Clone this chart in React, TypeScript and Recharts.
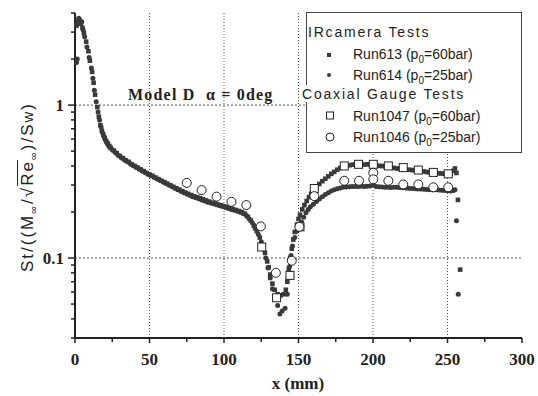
import React from 'react'
import { ScatterChart, Scatter, XAxis, YAxis, ReferenceLine } from 'recharts'

// IR camera, Run613 (p0=60bar) - [x mm, St ratio]
const run613: [number, number][] = [
  [1, 3.3], [2, 3.5], [3, 3.6], [4, 3.4], [5, 3.2], [6, 2.95], [7.5, 2.6], [9, 2.25], [10, 1.95],
  [11.5, 1.65], [12.5, 1.4], [13.5, 1.17], [15, 0.97], [16, 0.84], [17, 0.74], [18, 0.68], [19, 0.64],
  [20, 0.61], [21, 0.58], [22, 0.56], [23, 0.54], [24, 0.525], [26, 0.505], [28, 0.485], [30, 0.465],
  [32, 0.45], [34, 0.435], [36, 0.425], [38, 0.41], [40, 0.4], [42, 0.39], [44, 0.38], [46, 0.37],
  [48, 0.36], [50, 0.352], [52, 0.345], [54, 0.336], [56, 0.328], [58, 0.32], [60, 0.313], [62, 0.306],
  [64, 0.299], [66, 0.292], [68, 0.286], [70, 0.28], [72, 0.274], [74, 0.268], [76, 0.263], [78, 0.258],
  [80, 0.253], [82, 0.25], [84, 0.246], [86, 0.242], [88, 0.238], [90, 0.234], [92, 0.23], [94, 0.227],
  [96, 0.224], [98, 0.221], [100, 0.218], [102, 0.215], [104, 0.212], [106, 0.209], [108, 0.206],
  [110, 0.203], [112, 0.2], [114, 0.195], [116, 0.186], [118, 0.176], [120, 0.163], [122, 0.15],
  [124, 0.136], [126, 0.12], [127.5, 0.108], [129, 0.095], [130, 0.087], [131, 0.078], [132.5, 0.068],
  [134, 0.062], [136, 0.058], [138, 0.057], [140, 0.058], [141.5, 0.062], [142.5, 0.07], [143.5, 0.085],
  [144.5, 0.1], [145.5, 0.115], [146.5, 0.132], [147.5, 0.148], [149, 0.165], [150, 0.18], [151, 0.192],
  [152.5, 0.208], [154, 0.222], [155.5, 0.236], [157, 0.25], [158.5, 0.263], [160, 0.276], [162, 0.29],
  [164, 0.305], [166, 0.318], [168, 0.33], [170, 0.342], [172, 0.355], [174, 0.366], [176, 0.378],
  [178, 0.388], [180, 0.396], [182, 0.4], [184, 0.404], [186, 0.407], [188, 0.409], [190, 0.41],
  [192, 0.41], [194, 0.408], [196, 0.41], [198, 0.408], [200, 0.41], [202, 0.405], [204, 0.4], [206, 0.4],
  [208, 0.397], [210, 0.395], [212, 0.39], [214, 0.388], [216, 0.385], [218, 0.383], [220, 0.38],
  [222, 0.38], [224, 0.378], [226, 0.376], [228, 0.375], [230, 0.373], [232, 0.37], [234, 0.368],
  [236, 0.365], [238, 0.364], [240, 0.362], [242, 0.36], [244, 0.358], [246, 0.357], [248, 0.356],
  [250, 0.355], [252, 0.36], [254, 0.372], [255, 0.385], [256, 0.36], [257, 0.24], [258.5, 0.084],
]

// IR camera, Run614 (p0=25bar)
const run614: [number, number][] = [
  [1, 1.9], [1.5, 2.0], [2.5, 3.7], [3.5, 3.4], [4.5, 3.5], [5.5, 3.1], [6.5, 2.8], [8, 2.4], [9.5, 2.05],
  [11, 1.75], [12, 1.5], [13, 1.25], [14.2, 1.05], [15.5, 0.9], [16.5, 0.8], [17.5, 0.72], [18.5, 0.66],
  [19.5, 0.62], [20.5, 0.59], [21.5, 0.565], [22.5, 0.545], [23.5, 0.53], [25, 0.51], [27, 0.49],
  [29, 0.47], [31, 0.455], [33, 0.44], [35, 0.428], [37, 0.415], [39, 0.403], [41, 0.392], [43, 0.382],
  [45, 0.372], [47, 0.362], [49, 0.353], [51, 0.345], [53, 0.337], [55, 0.33], [57, 0.322], [59, 0.315],
  [61, 0.307], [63, 0.3], [65, 0.293], [67, 0.286], [69, 0.279], [71, 0.273], [73, 0.267], [75, 0.262],
  [77, 0.257], [79, 0.252], [81, 0.248], [83, 0.244], [85, 0.24], [87, 0.236], [89, 0.232], [91, 0.229],
  [93, 0.226], [95, 0.223], [97, 0.22], [99, 0.217], [101, 0.214], [103, 0.211], [105, 0.208],
  [107, 0.205], [109, 0.202], [111, 0.199], [113, 0.195], [115, 0.19], [117, 0.18], [119, 0.17],
  [121, 0.156], [123, 0.143], [125, 0.128], [126.5, 0.114], [128, 0.1], [129.5, 0.086], [131, 0.074],
  [132.5, 0.063], [134, 0.055], [136, 0.049], [137.5, 0.043], [139, 0.045], [141, 0.047], [142.5, 0.058],
  [143, 0.075], [144, 0.088], [145, 0.104], [146, 0.12], [147.5, 0.136], [149, 0.15], [150.5, 0.16],
  [152, 0.172], [153.5, 0.185], [155, 0.198], [156.5, 0.208], [158, 0.216], [160, 0.225], [162, 0.234],
  [164, 0.243], [166, 0.252], [168, 0.26], [170, 0.267], [172, 0.274], [174, 0.28], [176, 0.284],
  [178, 0.287], [180, 0.29], [182, 0.291], [184, 0.292], [186, 0.293], [188, 0.294], [190, 0.294],
  [192, 0.295], [194, 0.294], [196, 0.295], [198, 0.296], [200, 0.3], [202, 0.294], [204, 0.292],
  [206, 0.291], [208, 0.29], [210, 0.29], [212, 0.289], [214, 0.29], [216, 0.29], [218, 0.289],
  [220, 0.288], [222, 0.287], [224, 0.286], [226, 0.285], [228, 0.284], [230, 0.283], [232, 0.283],
  [234, 0.282], [236, 0.281], [238, 0.28], [240, 0.28], [242, 0.279], [244, 0.278], [246, 0.277],
  [248, 0.276], [250, 0.275], [252, 0.274], [254, 0.276], [255, 0.28], [256, 0.175], [257.2, 0.058],
]

// coaxial gauges
const run1047: [number, number][] = [
  [125.3, 0.118], [135.3, 0.055], [144.3, 0.077], [151, 0.16], [160.6, 0.285], [180.7, 0.4],
  [190.3, 0.41], [200.2, 0.41], [210.3, 0.4], [220.3, 0.39], [230.4, 0.376], [240.5, 0.363], [250.5, 0.355],
]
const run1046: [number, number][] = [
  [75, 0.31], [85, 0.278], [95, 0.252], [105, 0.233], [115, 0.222], [124.7, 0.161], [134.8, 0.08],
  [145.5, 0.096], [150.6, 0.16], [160.6, 0.254], [180.7, 0.32], [190.6, 0.32], [200.2, 0.361],
  [200.2, 0.327], [210.3, 0.32], [220.3, 0.303], [230.4, 0.303], [240.5, 0.29], [250.5, 0.29],
]

const xTicks = [0, 25, 50, 75, 100, 125, 150, 175, 200, 225, 250, 275, 300]
const xGrid = [50, 100, 150, 200, 250]
const yTicks = [0.03, 0.04, 0.05, 0.06, 0.07, 0.08, 0.09, 0.1, 0.2, 0.3, 0.4, 0.5, 0.6, 0.7, 0.8, 0.9, 1, 2, 3, 4]
const yLabels = [0.1, 1]

const ink = '#222'
const dot = '#3a3a3a'
const serif = '"Liberation Serif", "Times New Roman", serif'
const sans = '"Liberation Sans", Arial, sans-serif'

const toPts = (arr: [number, number][]) => arr.map(([x, y]) => ({ x, y }))

function XTick({ x, y, payload }: any) {
  const v = payload.value
  const major = v % 50 === 0
  return (
    <g>
      <line x1={x} x2={x} y1={y} y2={y + (major ? 5 : 4)} stroke={ink} strokeWidth={1.5} />
      {major && (
        <text x={x} y={y + 27} textAnchor="middle" fontFamily={serif} fontWeight="bold" fontSize={17} fill={ink}>
          {v}
        </text>
      )}
    </g>
  )
}

function YTick({ x, y, payload }: any) {
  const v = payload.value
  const major = yLabels.includes(v)
  return (
    <g>
      <line x1={x - (major ? 7 : 4)} x2={x} y1={y} y2={y} stroke={ink} strokeWidth={1.5} />
      {major && (
        <text x={x - 11} y={y + 6} textAnchor="end" fontFamily={serif} fontWeight="bold" fontSize={17} fill={ink}>
          {v}
        </text>
      )}
    </g>
  )
}

const irSquare = (p: any) => <rect x={p.cx - 2.3} y={p.cy - 2.3} width={4.6} height={4.6} fill={dot} />
const irCircle = (p: any) => <circle cx={p.cx} cy={p.cy} r={2.5} fill={dot} />
const openSquare = (p: any) => (
  <rect x={p.cx - 4} y={p.cy - 4} width={8} height={8} fill="#fff" stroke={ink} strokeWidth={1} />
)
const openCircle = (p: any) => <circle cx={p.cx} cy={p.cy} r={4.5} fill="#fff" stroke={ink} strokeWidth={1} />

function Legend() {
  const row = (y: number, run: string, p: string) => (
    <text x={353} y={y} fontFamily={sans} fontSize={14} fill={ink}>
      {run} (p<tspan fontSize={10} dy={4}>0</tspan>
      <tspan dy={-4}>={p}bar)</tspan>
    </text>
  )
  return (
    <g>
      <rect x={306.5} y={12.5} width={215} height={140} fill="#fff" stroke="#444" strokeWidth={1} />
      <text x={308} y={37} fontFamily={sans} fontSize={14} letterSpacing={1.8} fill={ink}>IRcamera Tests</text>
      <rect x={327} y={53} width={4} height={4} fill={dot} />
      {row(59, 'Run613', '60')}
      <circle cx={329} cy={75} r={2} fill={dot} />
      {row(80, 'Run614', '25')}
      <rect x={301} y={85} width={8} height={17} fill="#fff" />
      <text x={302} y={99} fontFamily={sans} fontSize={14} letterSpacing={1.8} fill={ink}>Coaxial Gauge Tests</text>
      <rect x={326.5} y={112} width={7} height={7} fill="#fff" stroke={ink} />
      {row(121, 'Run1047', '60')}
      <circle cx={330} cy={137} r={4} fill="#fff" stroke={ink} />
      {row(142, 'Run1046', '25')}
    </g>
  )
}

export default function App() {
  return (
    <div style={{ position: 'absolute', left: 0, top: 0, width: 538, height: 396, background: '#fff' }}>
      <ScatterChart width={538} height={396} margin={{ top: 13, right: 16, bottom: 0, left: 0 }}>
        <XAxis
          dataKey="x"
          type="number"
          domain={[0, 300]}
          ticks={xTicks}
          interval={0}
          height={58}
          tickSize={0}
          tickMargin={0}
          tick={<XTick />}
          axisLine={{ stroke: ink, strokeWidth: 2 }}
          tickLine={false}
        />
        <YAxis
          dataKey="y"
          type="number"
          scale="log"
          domain={[0.03, 4]}
          allowDataOverflow
          ticks={yTicks}
          interval={0}
          width={75}
          tickSize={0}
          tickMargin={0}
          tick={<YTick />}
          axisLine={{ stroke: ink, strokeWidth: 2 }}
          tickLine={false}
        />
        {xGrid.map((v) => (
          <ReferenceLine key={v} x={v} stroke="#555" strokeDasharray="1 2" />
        ))}
        {yLabels.map((v) => (
          <ReferenceLine key={v} y={v} stroke="#555" strokeDasharray="2 2" />
        ))}
        <Scatter data={toPts(run614)} shape={irCircle} isAnimationActive={false} />
        <Scatter data={toPts(run613)} shape={irSquare} isAnimationActive={false} />
        <Scatter data={toPts(run1047)} shape={openSquare} isAnimationActive={false} />
        <Scatter data={toPts(run1046)} shape={openCircle} isAnimationActive={false} />
      </ScatterChart>
      <svg width={538} height={396} style={{ position: 'absolute', left: 0, top: 0, pointerEvents: 'none' }}>
        <text x={128} y={100} fontFamily={serif} fontWeight="bold" fontSize={16} letterSpacing={1.2} fill={ink}>
          Model D{'\u00a0\u00a0'}α = 0deg
        </text>
        <text x={298} y={389} textAnchor="middle" fontFamily={serif} fontWeight="bold" fontSize={17} fill={ink}>
          x (mm)
        </text>
        <Legend />
      </svg>
      <div
        style={{
          position: 'absolute',
          left: 28 - 140,
          top: 187 - 11,
          width: 280,
          height: 22,
          lineHeight: '22px',
          textAlign: 'center',
          whiteSpace: 'nowrap',
          transform: 'rotate(-90deg)',
          fontFamily: sans,
          fontSize: 17,
          letterSpacing: 2,
          color: ink,
        }}
      >
        St/((M<sub style={{ fontSize: 11 }}>∞</sub>/√<span style={{ textDecoration: 'overline' }}>Re</span>
        <sub style={{ fontSize: 11 }}>∞</sub>)/S<span style={{ fontSize: 15 }}>w</span>)
      </div>
    </div>
  )
}
